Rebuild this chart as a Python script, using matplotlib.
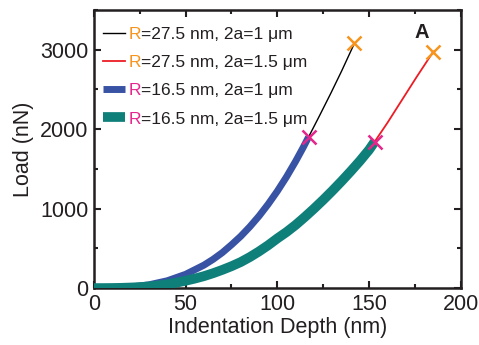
import numpy as np
import matplotlib.pyplot as plt
from matplotlib.ticker import MultipleLocator

plt.rcParams['font.family'] = ['Liberation Sans', 'DejaVu Sans']

# R=16.5 nm, 2a=1 um (blue)
depth_b = [0, 10, 20, 30, 40, 50, 60, 65, 70, 75, 80, 85, 90, 95, 100, 105,
           110, 114, 117]
load_b = [0, 2, 13, 41, 92, 173, 289, 362, 446, 545, 651, 772, 906, 1056, 1220,
          1400, 1597, 1766, 1900]
# R=16.5 nm, 2a=1.5 um (teal)
depth_t = [0, 5, 10, 15, 20, 25, 30, 35, 40, 45, 50, 55, 60, 65, 70, 75, 80, 85,
           90, 95, 100, 105, 110, 115, 120, 125, 130, 135, 140, 145, 150, 153]
load_t = [0, 0, 1, 3, 7, 12, 20, 32, 48, 68, 92, 119, 150, 187, 229, 275, 327,
          390, 461, 539, 625, 705, 795, 895, 1000, 1110, 1225, 1345, 1470, 1600,
          1740, 1841]
# R=27.5 nm, 2a=1 um (black)
depth_k = [117, 123, 129, 135, 142]
load_k = [1900, 2170, 2445, 2730, 3080]
# R=27.5 nm, 2a=1.5 um (red)
depth_r = [153, 160, 168, 176, 185]
load_r = [1841, 2080, 2370, 2660, 2976]

labels = ['=27.5 nm, 2a=1 \u03bcm', '=27.5 nm, 2a=1.5 \u03bcm',
          '=16.5 nm, 2a=1 \u03bcm', '=16.5 nm, 2a=1.5 \u03bcm']
orange = '#f7941d'
magenta = '#e6268c'
r_colors = [orange, orange, magenta, magenta]
txt = '#231f20'

fig = plt.figure(figsize=(4.79, 3.45), dpi=100)
ax = fig.add_axes([0.196, 0.165, 0.766, 0.806])

l1, = ax.plot(depth_k, load_k, color='black', lw=1.0, zorder=2)
l2, = ax.plot(depth_r, load_r, color='#ed1c24', lw=1.3, zorder=2)
l3, = ax.plot(depth_b, load_b, color='#3953a4', lw=5, zorder=3, solid_capstyle='butt')
l4, = ax.plot(depth_t, load_t, color='#0f7f7a', lw=7, zorder=3, solid_capstyle='butt')

# end markers
ax.plot([depth_k[-1], depth_r[-1]], [load_k[-1], load_r[-1]], 'x', color=orange,
        ms=10, mew=1.8, zorder=4)
ax.plot([depth_b[-1], depth_t[-1]], [load_b[-1], load_t[-1]], 'x', color=magenta,
        ms=10, mew=1.8, zorder=4)

ax.set_xlim(0, 200)
ax.set_ylim(0, 3500)
ax.xaxis.set_major_locator(MultipleLocator(50))
ax.xaxis.set_minor_locator(MultipleLocator(25))
ax.yaxis.set_major_locator(MultipleLocator(1000))
ax.yaxis.set_minor_locator(MultipleLocator(500))
ax.tick_params(which='both', direction='in', top=True, right=True,
               labelsize=15.5, colors=txt, width=1.5, pad=4)
ax.tick_params(which='major', length=5)
ax.tick_params(which='minor', length=3)
for s in ax.spines.values():
    s.set_linewidth(1.8)
    s.set_color(txt)

ax.set_xlabel('Indentation Depth (nm)', fontsize=15.5, color=txt, labelpad=2)
ax.set_ylabel('Load (nN)', fontsize=15.5, color=txt, labelpad=4)

ax.text(0.893, 0.92, 'A', transform=ax.transAxes, fontsize=14.5, fontweight='bold',
        ha='center', va='center', color=txt)

# legend: colored "R" followed by black text
leg = ax.legend([l1, l2, l3, l4], ['R'] * 4, loc='upper left', frameon=False,
                bbox_to_anchor=(0.0104, 0.958), borderaxespad=0, borderpad=0.3,
                fontsize=12.5, handlelength=1.27, handletextpad=0.2,
                labelspacing=0.75)
fig.canvas.draw()
for t, c, rest in zip(leg.get_texts(), r_colors, labels):
    t.set_color(c)
    bb = t.get_window_extent()
    fig.text(bb.x1, bb.y0, rest, transform=None, fontsize=12.5, color=txt,
             ha='left', va='bottom')

fig.savefig('out.png', dpi=100)
